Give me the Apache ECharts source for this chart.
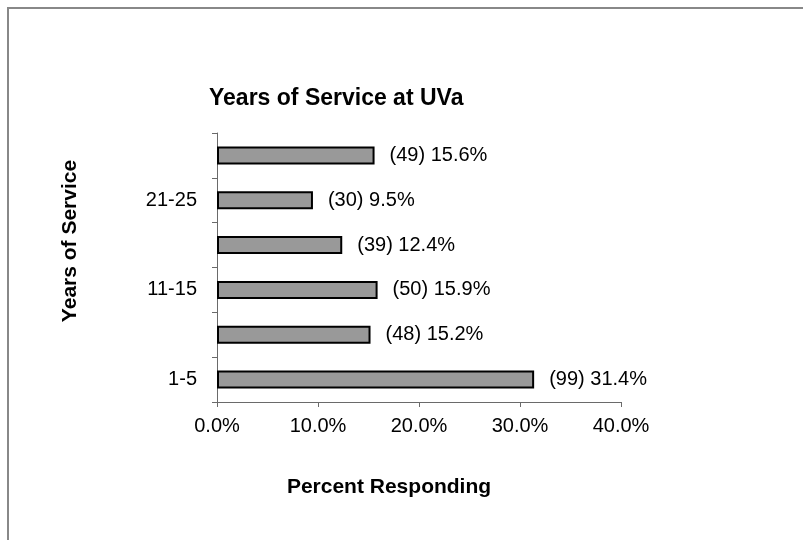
<!DOCTYPE html>
<html>
<head>
<meta charset="utf-8">
<title>Years of Service at UVa</title>
<script src="https://cdn.jsdelivr.net/npm/echarts@6/dist/echarts.min.js"></script>
<style>
  html, body { margin: 0; padding: 0; background: #ffffff; }
  #chart { width: 803px; height: 540px; }
</style>
</head>
<body>
<div id="chart"></div>
<script>
// Survey responses by years of service (bottom to top)
const categories = ['1-5', '6-10', '11-15', '16-20', '21-25', '26+'];
const percents = [31.4, 15.2, 15.9, 12.4, 9.5, 15.6];
const counts = [99, 48, 50, 39, 30, 49];
const xTicks = { min: 0, max: 40, step: 10 };

const FONT = "'Liberation Sans', Arial, Helvetica, sans-serif";

const chart = echarts.init(document.getElementById('chart'), null, { renderer: 'canvas' });

chart.setOption({
  backgroundColor: '#ffffff',
  animation: false,
  title: {
    text: 'Years of Service at UVa',
    left: 204,
    top: 82,
    textStyle: { fontFamily: FONT, fontSize: 23, fontWeight: 'bold', color: '#000' }
  },
  grid: { left: 217, right: 182, top: 133, bottom: 138, containLabel: false },
  xAxis: {
    type: 'value',
    min: xTicks.min,
    max: xTicks.max,
    interval: xTicks.step,
    splitLine: { show: false },
    axisLine: { show: true, lineStyle: { color: '#6a6a6a', width: 1 } },
    axisTick: { show: true, length: 5, lineStyle: { color: '#6a6a6a' } },
    axisLabel: {
      margin: 14,
      fontFamily: FONT, fontSize: 20, color: '#000',
      formatter: v => v.toFixed(1) + '%'
    }
  },
  yAxis: {
    type: 'category',
    data: categories,
    axisLine: { show: true, lineStyle: { color: '#6a6a6a', width: 1 } },
    axisTick: { show: true, interval: 0, length: 5, lineStyle: { color: '#6a6a6a' } },
    axisLabel: {
      interval: 1,
      margin: 20,
      fontFamily: FONT, fontSize: 20, color: '#000'
    }
  },
  graphic: [
    {
      type: 'polyline',
      shape: { points: [[8, 540], [8, 8], [803, 8]] },
      style: { stroke: '#888', lineWidth: 2, fill: null }
    },
    {
      type: 'text',
      x: 70, y: 241,
      rotation: Math.PI / 2,
      style: {
        text: 'Years of Service',
        fontFamily: FONT, fontSize: 21, fontWeight: 'bold', fill: '#000',
        align: 'center', verticalAlign: 'middle'
      }
    },
    {
      type: 'text',
      x: 389, y: 487,
      style: {
        text: 'Percent Responding',
        fontFamily: FONT, fontSize: 21, fontWeight: 'bold', fill: '#000',
        align: 'center', verticalAlign: 'middle'
      }
    }
  ],
  series: [{
    type: 'bar',
    data: percents,
    barWidth: 18,
    itemStyle: { color: '#999999', borderColor: '#000', borderWidth: 2 },
    label: {
      show: true,
      position: 'right',
      distance: 15,
      fontFamily: FONT, fontSize: 20, color: '#000',
      formatter: p => '(' + counts[p.dataIndex] + ') ' + p.value.toFixed(1) + '%'
    }
  }]
});
</script>
</body>
</html>
